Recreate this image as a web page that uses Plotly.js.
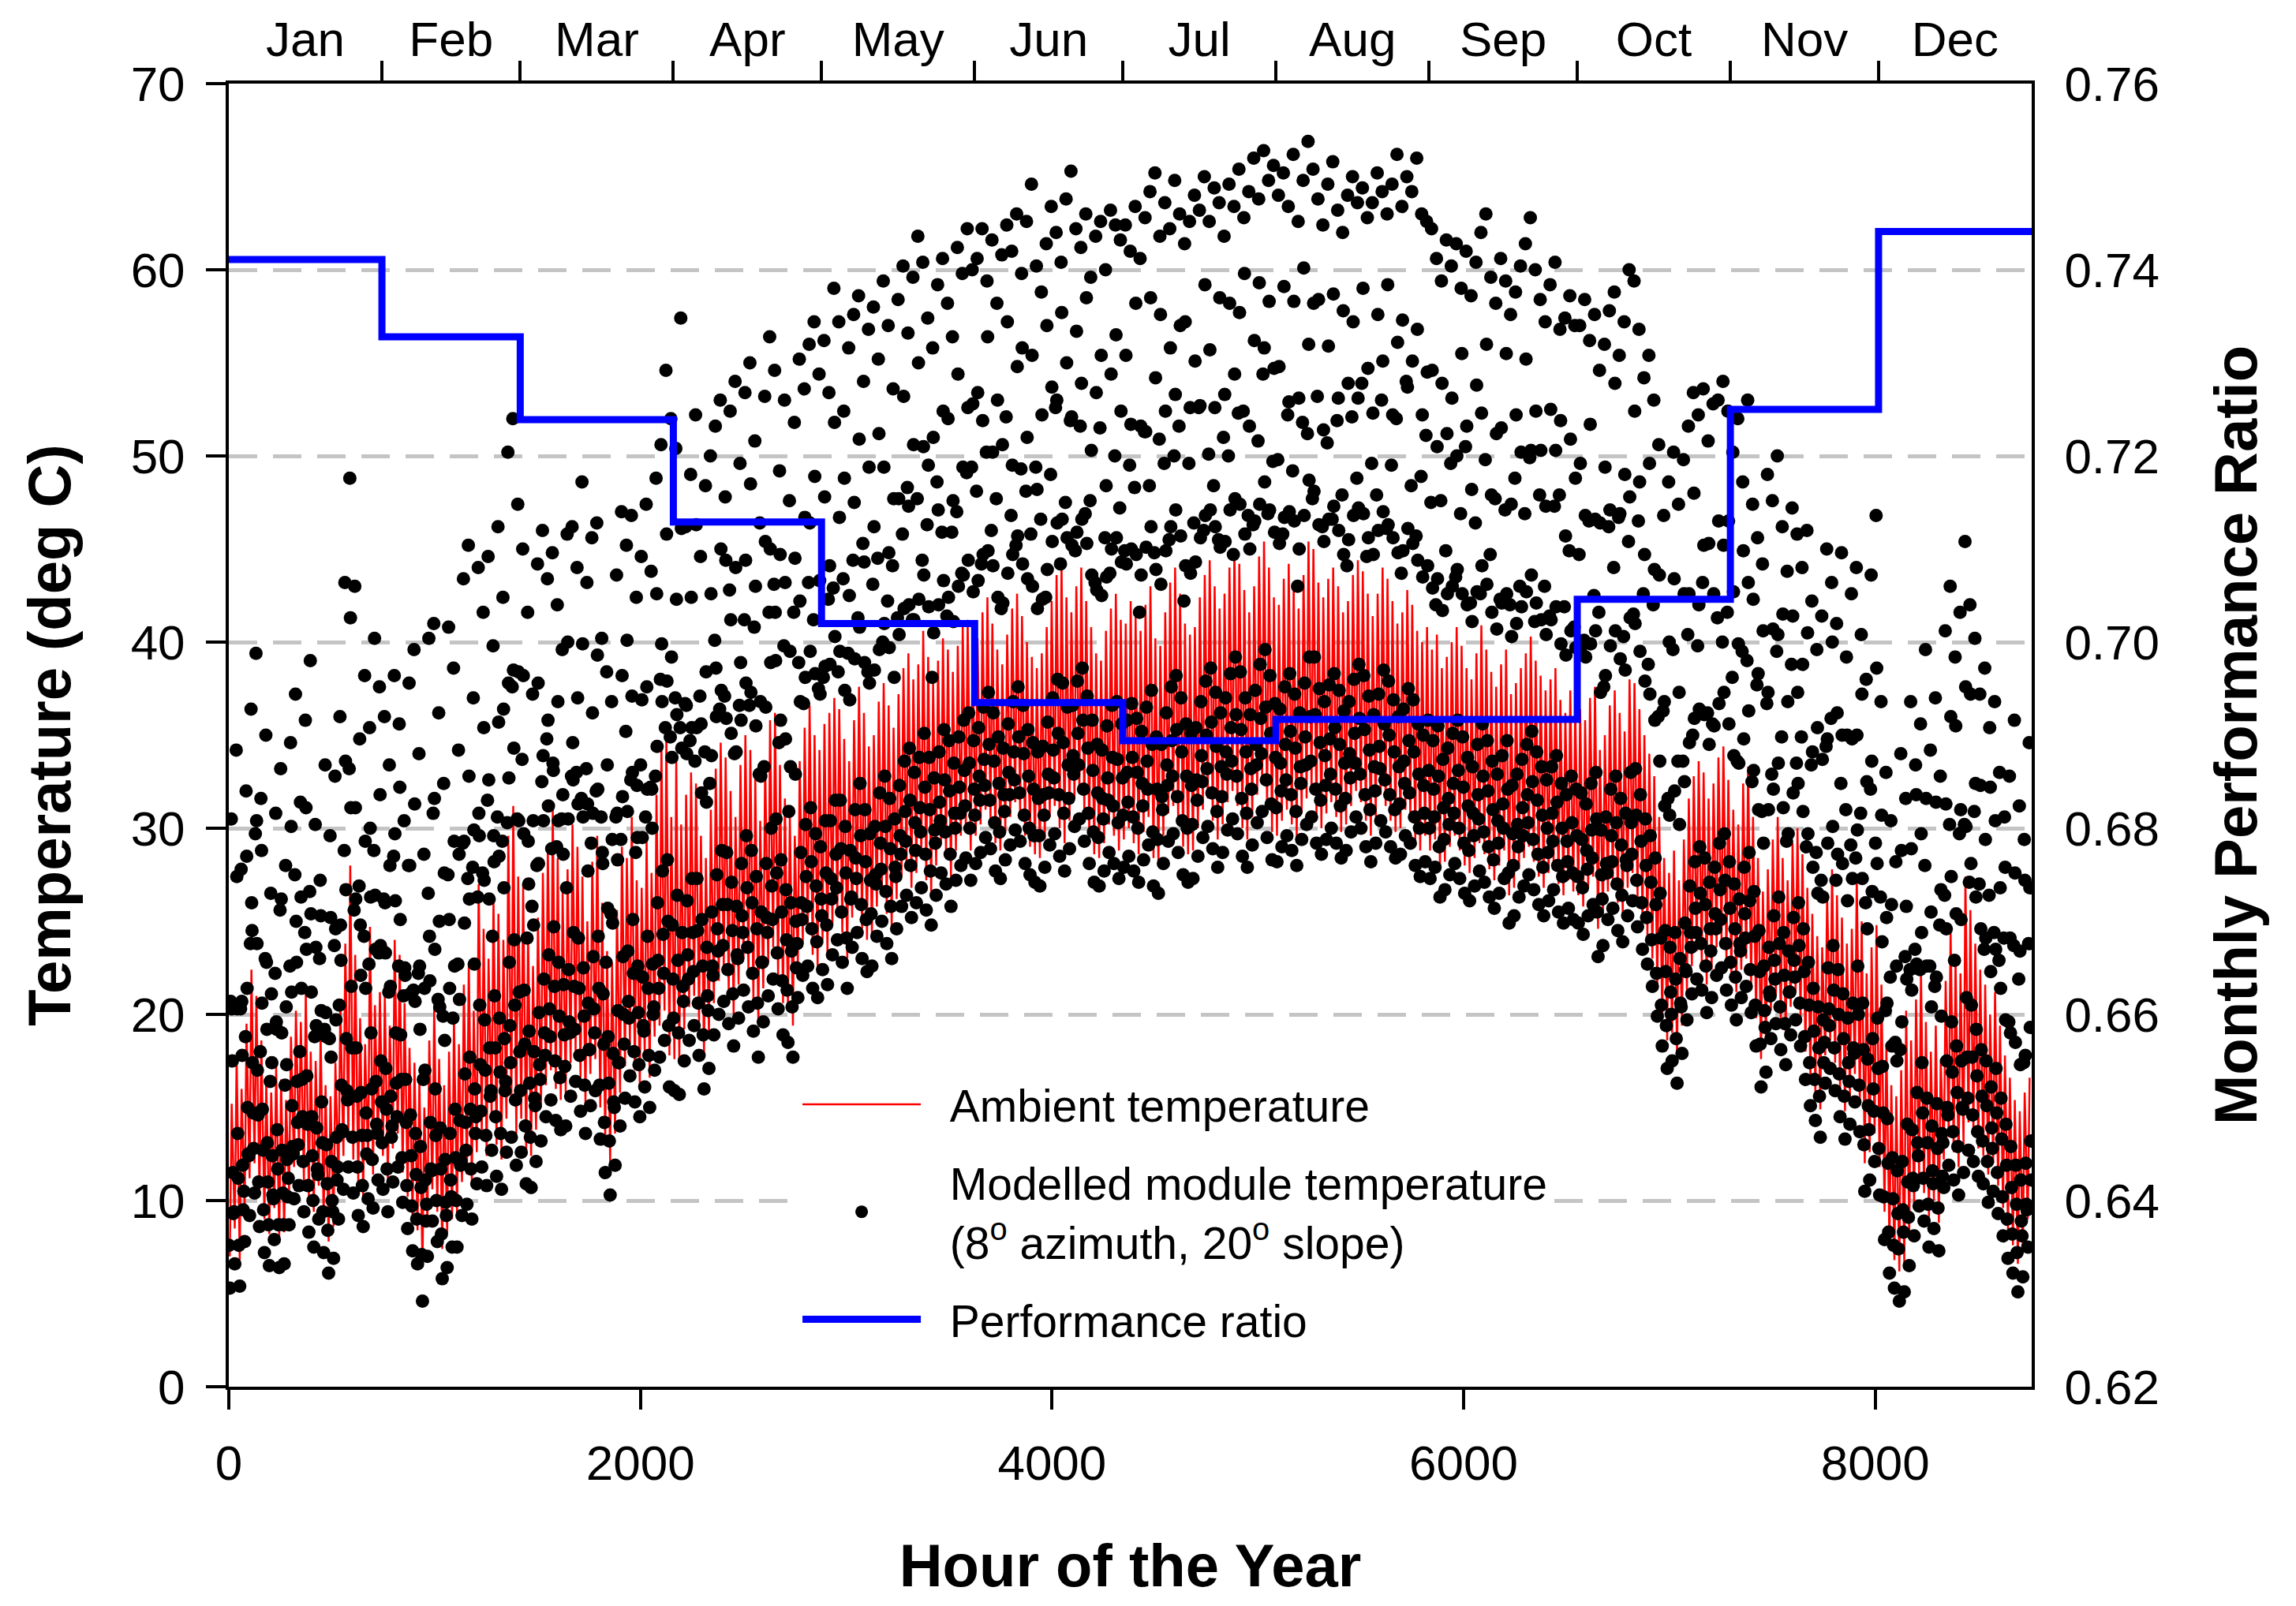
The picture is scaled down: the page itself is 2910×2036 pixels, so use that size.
<!DOCTYPE html>
<html>
<head>
<meta charset="utf-8">
<script src="https://cdn.plot.ly/plotly-3.0.1.min.js"></script>
<style>
  html, body { margin: 0; padding: 0; background: #ffffff; }
  #chart { width: 2910px; height: 2036px; }
</style>
</head>
<body>
<div id="chart"></div>
<script>
// months on the top axis
const monthNames = ['Jan', 'Feb', 'Mar', 'Apr', 'May', 'Jun', 'Jul', 'Aug', 'Sep', 'Oct', 'Nov', 'Dec'];
const monthStartHour = [0, 744, 1416, 2160, 2880, 3624, 4344, 5088, 5832, 6552, 7296, 8016];
const monthDays = [31, 28, 31, 30, 31, 30, 31, 31, 30, 31, 30, 31];

// monthly performance ratio (right axis)
const perfRatio = [0.7411, 0.7328, 0.7239, 0.7129, 0.7020, 0.6935, 0.6894, 0.6917, 0.6917, 0.7046, 0.7250, 0.7441];

// daily ambient temperature, low (~05h) and high (~14h), deg C - one row per month
const ambLow = [
  7.0, 8.5, 6.8, 9.5, 11.2, 12.0, 10.4, 9.0, 8.2, 9.6, 8.0, 8.3, 10.5, 11.8, 12.6, 11.0, 10.2, 9.4, 10.8, 9.0, 7.8, 8.6, 10.9, 12.4, 13.5, 12.2, 11.0, 10.2, 12.0, 11.4, 13.0,
  12.4, 11.0, 12.8, 13.6, 11.5, 10.2, 9.0, 8.4, 6.4, 8.8, 10.6, 9.4, 7.4, 8.2, 9.0, 9.2, 11.0, 11.4, 10.8, 12.6, 13.6, 12.4, 14.6, 13.0, 12.2, 14.4, 15.2, 13.6,
  14.4, 12.6, 12.4, 13.8, 15.0, 16.2, 17.0, 16.0, 15.4, 15.8, 17.4, 18.0, 16.6, 15.2, 16.8, 17.6, 15.0, 13.2, 12.0, 13.6, 15.8, 17.2, 18.4, 17.0, 16.2, 17.8, 16.6, 18.8, 19.4, 20.2, 17.8,
  17.6, 17.4, 19.2, 20.4, 21.0, 19.6, 17.8, 18.8, 20.6, 21.8, 22.4, 21.2, 20.0, 21.6, 23.0, 22.2, 20.8, 19.4, 21.4, 22.8, 23.6, 22.0, 20.6, 20.2, 19.4, 22.6, 23.8, 24.4, 23.2, 22.6,
  24.0, 23.2, 24.8, 25.6, 24.4, 23.0, 25.2, 26.0, 24.6, 24.0, 24.2, 25.8, 26.6, 25.4, 24.6, 26.2, 27.4, 28.0, 26.8, 27.6, 28.4, 27.2, 26.4, 28.0, 29.2, 28.6, 27.4, 28.8, 29.6, 30.0, 28.8,
  29.6, 30.2, 31.0, 30.4, 29.2, 28.8, 29.8, 30.6, 31.4, 30.8, 29.6, 29.0, 28.6, 28.4, 29.4, 30.6, 31.2, 30.0, 29.2, 30.4, 31.6, 32.0, 30.8, 29.6, 28.6, 28.4, 29.2, 30.2, 29.6, 28.8,
  29.4, 30.0, 29.2, 28.6, 29.8, 30.6, 28.4, 28.0, 29.6, 30.8, 31.2, 30.2, 29.0, 28.6, 28.8, 30.0, 31.0, 31.6, 30.4, 29.4, 30.2, 31.4, 32.0, 31.2, 30.0, 29.4, 30.6, 31.8, 32.4, 31.0, 29.8,
  29.6, 30.4, 31.0, 30.2, 29.4, 30.8, 31.6, 32.0, 30.6, 30.0, 30.8, 31.4, 30.6, 29.8, 30.2, 31.2, 32.0, 31.4, 30.4, 29.6, 30.6, 31.8, 31.2, 30.4, 29.8, 30.0, 31.0, 30.6, 29.4, 28.8, 29.6,
  28.8, 29.4, 27.8, 28.2, 29.0, 29.6, 28.8, 28.0, 27.6, 28.4, 29.2, 28.6, 27.8, 27.2, 28.0, 28.8, 26.4, 26.8, 27.8, 28.4, 29.0, 28.2, 27.4, 26.8, 27.6, 28.2, 27.0, 26.4, 27.2, 26.6,
  26.4, 25.8, 26.8, 27.4, 24.6, 25.2, 26.6, 27.2, 26.0, 25.4, 26.8, 27.6, 26.2, 25.0, 24.2, 23.0, 21.4, 19.8, 18.6, 19.0, 17.8, 19.4, 21.2, 22.6, 23.4, 22.8, 21.6, 22.4, 23.6, 24.0, 22.8,
  22.0, 21.2, 22.4, 23.0, 21.6, 19.8, 17.6, 18.4, 20.2, 21.0, 19.6, 18.8, 20.4, 21.2, 19.8, 18.0, 16.6, 15.8, 14.9, 17.8, 18.6, 17.4, 16.0, 14.8, 15.6, 16.8, 15.2, 12.0, 12.6, 13.6,
  11.8, 9.4, 7.6, 6.8, 6.2, 6.6, 8.0, 9.6, 11.2, 10.4, 9.0, 10.0, 8.8, 12.2, 13.4, 12.6, 11.8, 13.0, 14.2, 13.6, 12.8, 12.4, 11.4, 12.0, 10.8, 9.6, 8.4, 7.6, 6.6, 7.4, 9.0
];
const ambHigh = [
  15.2, 17.8, 16.0, 19.5, 22.4, 21.0, 18.6, 16.4, 15.8, 17.2, 16.5, 15.4, 18.8, 20.2, 19.6, 21.3, 18.0, 17.5, 19.0, 16.2, 15.6, 17.4, 20.6, 23.8, 28.0, 23.2, 19.8, 18.4, 24.7, 20.5, 21.2,
  21.0, 19.4, 24.0, 23.2, 20.6, 18.2, 17.4, 16.6, 15.0, 18.6, 20.4, 17.6, 16.2, 18.0, 19.8, 18.4, 21.6, 22.8, 20.2, 27.0, 24.6, 23.0, 26.2, 25.4, 24.0, 29.6, 31.2, 27.4,
  27.0, 24.4, 22.6, 25.2, 27.6, 29.0, 31.0, 28.4, 26.6, 27.8, 30.2, 29.0, 27.4, 25.0, 28.2, 29.6, 26.0, 23.4, 22.8, 25.6, 29.0, 28.4, 30.6, 27.2, 26.8, 29.4, 27.6, 31.8, 34.4, 35.0, 30.6,
  33.6, 30.2, 31.8, 33.0, 32.4, 29.6, 28.4, 31.0, 33.2, 34.6, 33.8, 32.0, 30.6, 33.4, 35.0, 34.2, 32.8, 30.4, 33.6, 35.8, 36.2, 33.4, 31.6, 30.8, 29.6, 33.6, 35.4, 36.6, 35.0, 34.2,
  35.6, 36.2, 37.0, 36.4, 34.8, 33.6, 35.8, 37.6, 36.2, 34.4, 35.0, 36.8, 37.8, 36.6, 35.4, 37.2, 38.6, 39.4, 38.0, 38.8, 40.6, 39.2, 37.8, 39.0, 40.2, 39.6, 38.4, 39.8, 40.8, 41.2, 39.6,
  40.2, 41.6, 42.4, 41.0, 39.6, 38.8, 40.4, 41.8, 42.6, 41.4, 40.0, 39.2, 38.6, 39.4, 40.8, 42.2, 43.6, 44.2, 42.4, 41.6, 43.0, 44.0, 42.2, 40.8, 39.4, 39.0, 40.6, 41.8, 42.6, 41.2,
  41.0, 42.2, 41.4, 40.6, 42.0, 43.0, 40.2, 39.8, 41.6, 43.2, 44.0, 42.6, 41.0, 40.4, 40.8, 42.4, 43.6, 44.4, 43.0, 41.8, 42.6, 44.0, 45.0, 44.2, 42.8, 41.6, 43.0, 44.6, 45.4, 44.0, 42.4,
  42.0, 43.4, 44.2, 43.0, 41.8, 43.6, 45.4, 45.0, 43.2, 42.4, 43.4, 44.0, 43.0, 41.6, 42.2, 43.6, 44.4, 43.8, 42.6, 41.4, 42.6, 44.0, 43.4, 42.2, 41.0, 41.6, 42.8, 42.0, 40.6, 40.0, 40.8,
  39.6, 40.4, 38.6, 39.2, 40.0, 40.8, 39.8, 38.6, 38.0, 39.4, 40.9, 39.6, 38.4, 37.6, 38.8, 39.6, 37.2, 37.8, 38.6, 39.4, 40.3, 39.0, 38.2, 37.4, 38.0, 38.6, 36.9, 36.2, 37.4, 36.6,
  36.4, 35.8, 37.0, 37.6, 34.2, 35.0, 36.6, 37.4, 36.2, 35.2, 38.0, 37.8, 36.4, 35.0, 34.0, 32.8, 30.6, 28.4, 27.6, 28.8, 27.2, 29.4, 31.6, 32.8, 33.6, 33.0, 31.6, 32.4, 33.8, 34.4, 32.6,
  31.0, 30.2, 32.4, 33.3, 30.6, 28.4, 26.6, 27.8, 29.4, 30.6, 28.4, 27.2, 29.2, 30.0, 28.6, 26.8, 25.4, 24.2, 23.6, 26.4, 27.8, 26.4, 25.2, 23.8, 24.6, 27.4, 25.0, 22.2, 23.6, 24.8,
  21.6, 18.4, 16.2, 15.6, 17.0, 20.2, 18.6, 20.8, 22.4, 19.6, 18.0, 19.4, 17.6, 21.8, 24.6, 23.0, 22.2, 27.4, 25.6, 23.8, 22.4, 21.6, 20.0, 21.2, 19.4, 17.8, 16.6, 15.4, 14.8, 15.8, 16.6
];

// daily modelled module temperature, deg C, at the hours in modHours
const modLateNight = [ // 01h
  7.6, 9.4, 7.6, 10.5, 12.4, 12.8, 11.0, 9.5, 8.7, 10.1, 8.7, 8.7, 11.2, 12.5, 13.0, 12.1, 10.8, 10.0, 11.4, 9.4, 8.4, 9.4, 11.8, 13.7, 15.4, 13.4, 11.8, 10.8, 13.5, 12.2, 13.6,
  13.1, 11.7, 14.0, 14.5, 12.3, 10.8, 9.7, 9.0, 7.1, 9.8, 11.6, 10.0, 8.2, 9.2, 10.2, 10.0, 12.1, 12.7, 11.7, 14.5, 14.8, 13.5, 15.9, 14.5, 13.6, 16.4, 17.4, 15.4,
  15.9, 14.0, 13.4, 15.1, 16.5, 17.8, 18.8, 17.5, 16.6, 17.2, 19.0, 19.2, 17.8, 16.2, 18.1, 19.0, 16.2, 14.2, 13.2, 15.0, 17.4, 18.4, 19.8, 18.0, 17.3, 19.1, 17.8, 20.4, 21.4, 22.2, 19.4,
  19.8, 19.0, 20.7, 21.9, 22.3, 20.6, 18.9, 20.2, 22.1, 23.4, 23.7, 22.4, 21.1, 23.0, 24.4, 23.6, 22.2, 20.6, 22.8, 24.4, 25.1, 23.3, 21.8, 21.3, 20.4, 23.8, 25.1, 25.8, 24.6, 23.9,
  25.3, 24.8, 26.2, 26.8, 25.5, 24.1, 26.3, 27.3, 25.9, 25.1, 25.4, 27.0, 27.8, 26.6, 25.8, 27.4, 28.6, 29.3, 28.0, 28.8, 29.8, 28.6, 27.7, 29.2, 30.4, 29.8, 28.6, 30.0, 30.8, 31.2, 30.0,
  30.7, 31.5, 32.3, 31.5, 30.3, 29.8, 30.9, 31.8, 32.6, 31.9, 30.7, 30.0, 29.6, 29.6, 30.7, 31.9, 32.7, 31.8, 30.8, 31.6, 32.9, 33.4, 32.1, 30.8, 29.8, 29.5, 30.5, 31.5, 31.2, 30.3,
  30.7, 31.4, 30.6, 30.0, 31.2, 32.1, 29.8, 29.4, 31.0, 32.3, 32.8, 31.7, 30.4, 30.0, 30.2, 31.5, 32.5, 33.2, 31.9, 30.9, 31.7, 32.9, 33.6, 32.8, 31.6, 30.8, 32.1, 33.4, 34.0, 32.6, 31.3,
  31.1, 32.0, 32.6, 31.8, 30.9, 32.4, 33.4, 33.6, 32.1, 31.5, 32.3, 32.9, 32.1, 31.2, 31.6, 32.7, 33.5, 32.9, 31.8, 31.0, 32.0, 33.2, 32.6, 31.8, 31.0, 31.3, 32.4, 31.9, 30.6, 30.0, 30.8,
  30.0, 30.6, 29.0, 29.4, 30.2, 30.8, 30.0, 29.2, 28.8, 29.6, 30.5, 29.8, 29.0, 28.3, 29.2, 30.0, 27.6, 28.0, 29.0, 29.6, 30.3, 29.4, 28.6, 27.9, 28.7, 29.3, 28.0, 27.4, 28.2, 27.6,
  27.4, 26.8, 27.8, 28.4, 25.5, 26.2, 27.6, 28.2, 27.0, 26.4, 28.0, 28.6, 27.2, 26.0, 25.2, 24.0, 22.2, 20.5, 19.4, 20.0, 18.7, 20.4, 22.3, 23.6, 24.4, 23.8, 22.6, 23.4, 24.6, 25.1, 23.8,
  22.8, 22.0, 23.4, 24.1, 22.4, 20.5, 18.4, 19.3, 21.0, 21.9, 20.4, 19.5, 21.2, 22.0, 20.6, 18.8, 17.4, 16.5, 15.6, 18.5, 19.4, 18.2, 16.8, 15.6, 16.4, 17.9, 16.2, 13.0, 13.8, 14.8,
  12.8, 10.2, 8.3, 7.6, 7.4, 8.3, 9.1, 10.8, 12.4, 11.2, 9.8, 10.9, 9.6, 13.1, 14.6, 13.7, 12.9, 14.9, 15.5, 14.6, 13.7, 13.2, 12.1, 12.8, 11.5, 10.2, 9.0, 8.2, 7.2, 8.1, 9.5
];
const modNight = [ // 05h
  5.3, 6.6, 5.4, 7.8, 9.2, 10.4, 8.6, 7.2, 6.5, 7.9, 6.4, 6.6, 8.7, 10.1, 10.8, 9.4, 8.3, 7.5, 9.0, 7.2, 6.1, 6.9, 9.0, 10.6, 11.8, 10.4, 9.2, 8.6, 10.1, 9.6, 11.1,
  10.6, 9.4, 11.0, 11.8, 9.9, 8.5, 7.3, 6.6, 4.6, 7.0, 8.9, 7.8, 5.8, 6.4, 7.5, 7.5, 9.2, 9.8, 9.0, 10.9, 11.8, 10.8, 12.7, 11.3, 10.6, 12.6, 13.4, 11.9,
  12.6, 10.9, 10.7, 12.1, 13.2, 14.5, 15.4, 14.3, 13.8, 14.0, 15.6, 16.4, 14.8, 13.6, 15.1, 15.9, 13.3, 11.5, 10.3, 11.9, 14.0, 15.5, 16.7, 15.3, 14.5, 16.1, 15.0, 17.0, 17.7, 18.6, 16.1,
  15.9, 15.7, 17.5, 18.6, 19.4, 17.8, 16.0, 17.1, 18.9, 20.0, 20.7, 19.5, 18.3, 19.8, 21.3, 20.4, 19.1, 17.7, 19.6, 21.0, 21.9, 20.3, 18.9, 18.5, 17.7, 20.9, 22.1, 22.6, 21.4, 20.9,
  22.4, 21.6, 23.2, 24.0, 22.8, 21.4, 23.6, 24.4, 23.0, 22.3, 22.6, 24.2, 25.0, 23.8, 23.0, 24.6, 25.8, 26.4, 25.2, 26.0, 26.8, 25.6, 24.8, 26.4, 27.6, 27.0, 25.8, 27.2, 28.0, 28.4, 27.2,
  28.1, 28.7, 29.5, 28.9, 27.7, 27.3, 28.3, 29.1, 29.9, 29.3, 28.1, 27.5, 27.1, 26.9, 27.9, 29.1, 29.7, 28.5, 27.7, 28.9, 30.1, 30.5, 29.3, 28.1, 27.1, 26.9, 27.7, 28.7, 28.1, 27.3,
  27.9, 28.5, 27.7, 27.1, 28.3, 29.1, 26.9, 26.5, 28.1, 29.3, 29.7, 28.7, 27.5, 27.1, 27.3, 28.5, 29.5, 30.1, 28.9, 27.9, 28.7, 29.9, 30.5, 29.7, 28.5, 27.9, 29.1, 30.3, 30.9, 29.5, 28.3,
  28.2, 29.0, 29.6, 28.8, 28.0, 29.4, 30.2, 30.6, 29.2, 28.6, 29.4, 30.0, 29.2, 28.4, 28.8, 29.8, 30.6, 30.0, 29.0, 28.2, 29.2, 30.4, 29.8, 29.0, 28.4, 28.6, 29.6, 29.2, 28.0, 27.4, 28.2,
  27.3, 27.9, 26.3, 26.7, 27.5, 28.1, 27.3, 26.5, 26.1, 26.9, 27.7, 27.1, 26.3, 25.7, 26.5, 27.3, 24.9, 25.3, 26.3, 26.9, 27.5, 26.7, 25.9, 25.3, 26.1, 26.7, 25.5, 24.9, 25.7, 25.1,
  24.9, 24.3, 25.3, 25.9, 23.1, 23.7, 25.1, 25.7, 24.5, 23.9, 25.3, 26.1, 24.7, 23.5, 22.7, 21.5, 19.9, 18.3, 17.1, 17.5, 16.3, 17.9, 19.7, 21.1, 21.9, 21.3, 20.1, 20.9, 22.1, 22.5, 21.3,
  20.5, 19.7, 20.9, 21.5, 20.1, 18.3, 16.1, 16.9, 18.7, 19.5, 18.1, 17.3, 18.9, 19.7, 18.3, 16.5, 15.1, 14.3, 13.4, 16.3, 17.1, 15.9, 14.5, 13.3, 14.1, 15.3, 13.7, 10.5, 11.1, 12.1,
  10.3, 7.9, 6.1, 5.3, 4.6, 5.1, 6.5, 8.1, 9.7, 8.9, 7.5, 8.5, 7.3, 10.7, 11.9, 11.1, 10.3, 11.5, 12.7, 12.1, 11.3, 10.9, 9.9, 10.5, 9.3, 8.1, 6.9, 6.1, 5.1, 5.9, 7.5
];
const modMorning = [ // 09h
  20.7, 20.4, 20.3, 18.8, 23.8, 29.7, 18.0, 23.0, 16.4, 22.2, 25.6, 16.2, 22.6, 27.5, 18.0, 24.4, 26.6, 18.8, 23.0, 19.2, 18.7, 23.7, 20.5, 28.8, 33.2, 25.6, 26.9, 24.2, 22.7, 28.8, 23.3,
  26.2, 21.2, 28.5, 22.6, 21.0, 28.0, 21.3, 22.2, 16.5, 26.5, 30.8, 20.8, 19.9, 27.5, 19.8, 22.7, 29.2, 27.3, 27.9, 26.3, 27.6, 31.5, 24.2, 30.6, 29.3, 30.3, 37.6, 30.5,
  33.7, 24.1, 25.8, 28.0, 32.5, 34.8, 28.9, 29.0, 30.5, 26.8, 32.8, 33.0, 31.6, 33.2, 29.2, 32.0, 30.6, 22.8, 25.4, 30.6, 29.4, 35.2, 32.6, 28.7, 33.4, 30.6, 32.2, 32.8, 38.0, 35.4, 34.9,
  37.0, 35.4, 36.7, 34.7, 33.6, 37.1, 34.1, 32.4, 40.1, 36.4, 37.1, 42.8, 34.0, 36.6, 41.2, 36.6, 40.8, 32.9, 33.3, 41.6, 43.1, 34.6, 39.8, 30.9, 41.6, 38.9, 36.7, 43.2, 41.2, 37.5,
  38.1, 42.3, 42.9, 38.4, 43.4, 39.4, 44.4, 41.3, 45.3, 38.4, 43.1, 44.5, 40.0, 42.2, 44.1, 41.3, 45.8, 48.3, 41.2, 47.7, 44.4, 46.3, 38.1, 48.6, 45.9, 41.4, 45.9, 47.0, 43.7, 49.1, 49.4,
  48.1, 44.2, 50.2, 46.0, 47.7, 41.8, 52.1, 46.8, 45.2, 49.3, 48.1, 45.8, 49.4, 46.6, 42.4, 49.0, 52.6, 44.2, 47.5, 51.9, 44.9, 51.6, 46.9, 47.6, 43.2, 51.5, 45.6, 43.7, 50.0, 47.2,
  44.9, 49.5, 48.3, 41.6, 51.3, 48.4, 44.8, 50.9, 49.6, 45.5, 50.0, 51.6, 42.2, 49.6, 46.4, 52.6, 46.0, 50.1, 48.4, 45.5, 51.0, 50.0, 44.7, 52.3, 52.4, 46.8, 46.3, 50.8, 54.4, 46.9, 49.7,
  49.8, 45.8, 52.2, 49.2, 43.0, 51.8, 51.2, 47.7, 53.2, 46.2, 50.7, 46.6, 51.9, 47.9, 44.1, 52.1, 48.8, 53.9, 44.6, 49.6, 47.9, 53.0, 46.1, 49.5, 52.0, 43.7, 54.0, 48.4, 45.7, 48.9, 51.1,
  47.5, 42.0, 47.6, 44.9, 49.6, 43.5, 46.9, 50.5, 42.1, 46.4, 42.6, 49.8, 44.7, 47.7, 42.3, 47.1, 42.0, 48.8, 43.0, 46.9, 49.9, 41.1, 47.9, 43.0, 41.4, 47.3, 47.9, 41.9, 44.9, 40.8,
  44.7, 40.1, 46.5, 42.5, 41.6, 37.6, 46.2, 44.0, 46.7, 40.3, 45.4, 41.5, 46.5, 42.6, 38.8, 42.0, 36.0, 36.3, 31.6, 39.6, 33.6, 33.6, 40.4, 35.0, 39.8, 43.2, 36.2, 35.6, 41.3, 40.0, 41.6,
  38.1, 33.6, 39.5, 39.0, 32.5, 37.7, 30.9, 36.7, 32.9, 39.5, 34.9, 29.3, 38.8, 33.5, 34.9, 29.0, 33.4, 28.7, 27.2, 34.4, 35.9, 27.2, 32.4, 31.0, 29.1, 28.4, 30.8, 26.0, 32.1, 29.2,
  26.3, 20.2, 22.0, 18.5, 18.1, 23.1, 22.4, 23.5, 22.4, 28.0, 22.6, 21.5, 24.8, 26.4, 30.2, 22.9, 29.7, 30.2, 27.1, 30.9, 27.0, 23.5, 26.4, 24.4, 22.9, 24.1, 19.6, 23.7, 21.9, 17.4, 23.8
];
const modNoon = [ // 12h
  30.5, 34.2, 27.8, 32.0, 36.4, 39.4, 31.6, 35.0, 26.5, 30.8, 33.2, 28.0, 34.6, 37.2, 31.4, 35.8, 39.0, 30.2, 27.2, 33.4, 29.6, 32.8, 36.0, 43.2, 48.8, 43.0, 34.8, 38.2, 35.4, 40.2, 37.6,
  36.0, 33.4, 38.2, 35.6, 30.4, 37.8, 39.6, 34.0, 28.6, 40.2, 41.0, 36.2, 32.4, 40.8, 38.6, 34.2, 43.4, 45.2, 37.0, 44.0, 41.6, 44.6, 39.8, 46.2, 42.4, 50.2, 52.0, 47.4,
  45.0, 41.6, 37.2, 44.2, 46.0, 43.4, 44.8, 42.0, 39.6, 45.8, 46.2, 44.0, 48.6, 43.2, 45.6, 46.4, 40.2, 38.4, 36.8, 43.6, 47.0, 45.2, 46.8, 42.4, 44.6, 47.4, 43.8, 48.8, 50.6, 54.6, 52.0,
  50.4, 57.4, 46.2, 49.0, 52.2, 44.6, 48.4, 50.0, 51.6, 53.0, 47.8, 52.4, 54.0, 49.6, 53.4, 55.0, 50.8, 46.4, 53.2, 56.4, 54.6, 49.2, 53.0, 47.6, 51.8, 55.2, 53.6, 56.0, 57.2, 54.4,
  56.2, 53.4, 59.0, 57.2, 52.4, 55.8, 57.6, 58.6, 54.0, 56.8, 58.0, 55.2, 59.4, 57.0, 53.6, 58.4, 60.2, 56.6, 59.6, 61.8, 60.4, 57.4, 55.8, 59.2, 60.6, 58.2, 56.4, 61.2, 59.8, 62.2, 60.0,
  60.6, 62.2, 59.4, 61.6, 58.2, 60.8, 62.4, 61.0, 63.0, 59.8, 62.6, 64.6, 60.2, 58.8, 61.4, 63.4, 62.0, 60.4, 63.8, 65.3, 62.2, 61.2, 63.0, 59.6, 61.8, 62.6, 60.0, 63.2, 62.4, 61.6,
  62.4, 61.0, 63.4, 60.6, 62.8, 64.2, 65.2, 61.8, 63.6, 62.2, 64.8, 63.0, 61.4, 62.6, 64.0, 63.2, 65.0, 62.6, 64.4, 63.6, 61.8, 64.6, 63.4, 65.4, 62.8, 64.2, 66.0, 63.8, 66.4, 64.8, 65.6,
  64.0, 65.2, 63.4, 66.2, 62.6, 64.8, 66.9, 65.4, 63.8, 62.4, 64.6, 65.8, 63.2, 62.0, 64.0, 65.0, 63.6, 64.4, 62.8, 63.6, 65.2, 64.2, 63.0, 64.6, 66.2, 63.4, 65.0, 64.2, 66.0, 63.0, 62.6,
  62.2, 60.6, 59.4, 61.6, 60.2, 61.4, 59.0, 61.0, 58.6, 60.4, 62.0, 63.0, 59.6, 58.2, 60.6, 59.4, 57.6, 58.8, 60.2, 61.4, 62.8, 60.0, 58.4, 57.2, 59.2, 60.4, 56.8, 57.4, 58.6, 57.0,
  57.0, 58.4, 56.2, 57.6, 54.6, 56.0, 57.8, 58.8, 55.4, 57.2, 60.0, 59.4, 56.8, 54.2, 55.4, 53.0, 50.6, 46.8, 48.6, 50.2, 47.4, 49.8, 51.6, 53.4, 52.2, 53.6, 50.8, 52.8, 53.0, 54.0, 52.4,
  50.2, 52.0, 48.6, 53.0, 47.4, 45.6, 44.2, 49.0, 47.6, 50.0, 46.2, 43.8, 47.2, 45.8, 44.0, 46.0, 42.2, 39.6, 41.4, 45.0, 43.2, 41.0, 44.8, 39.2, 42.6, 44.0, 40.4, 38.0, 43.6, 46.8,
  36.8, 33.0, 30.4, 28.2, 34.0, 31.6, 36.8, 33.4, 35.6, 39.6, 34.2, 37.0, 32.8, 40.6, 43.0, 39.2, 41.6, 45.4, 42.0, 40.2, 37.2, 38.6, 35.4, 36.8, 33.0, 30.6, 32.8, 35.8, 31.2, 29.4, 34.6
];
const modAfternoon = [ // 15h
  20.3, 27.4, 20.7, 28.5, 26.0, 30.4, 28.8, 22.8, 21.1, 19.6, 26.2, 20.4, 30.1, 25.0, 26.3, 31.1, 25.4, 23.6, 25.3, 20.1, 25.2, 24.6, 24.8, 33.6, 41.3, 31.1, 24.8, 29.3, 30.0, 26.4, 31.8,
  26.0, 28.0, 29.7, 32.2, 22.5, 28.0, 31.3, 22.6, 21.4, 24.2, 31.6, 25.0, 27.6, 25.1, 29.3, 28.6, 29.3, 32.8, 29.9, 30.8, 35.4, 32.6, 29.6, 35.7, 36.4, 37.8, 38.5, 38.4,
  38.2, 29.3, 30.4, 37.8, 33.9, 35.8, 33.5, 36.8, 31.8, 40.0, 34.6, 37.0, 39.9, 31.3, 36.2, 39.3, 28.7, 33.4, 29.4, 30.8, 38.2, 40.1, 37.1, 32.3, 36.9, 37.6, 32.1, 42.6, 39.9, 45.8, 39.2,
  42.3, 46.1, 36.6, 42.4, 46.3, 35.6, 38.4, 42.6, 38.6, 45.0, 44.4, 41.2, 44.0, 38.9, 44.4, 48.5, 43.0, 36.8, 45.4, 45.0, 41.6, 44.7, 43.2, 39.5, 44.5, 42.2, 46.7, 46.4, 48.9, 43.3,
  47.8, 44.1, 51.8, 46.7, 48.8, 42.5, 47.5, 50.9, 44.3, 49.4, 46.2, 51.2, 49.4, 44.8, 47.7, 47.7, 53.2, 47.3, 50.6, 55.0, 50.5, 49.5, 51.0, 47.1, 52.4, 52.0, 47.6, 54.4, 49.4, 52.6, 52.8,
  53.4, 51.9, 56.4, 50.2, 53.0, 50.6, 57.2, 49.5, 54.8, 55.8, 51.0, 55.4, 48.2, 52.2, 57.0, 53.7, 53.0, 57.7, 55.0, 52.1, 56.7, 53.9, 58.5, 50.3, 53.4, 55.4, 48.4, 54.4, 56.5, 52.4,
  55.4, 51.7, 58.2, 51.6, 51.3, 58.5, 54.2, 57.6, 52.4, 55.8, 53.3, 57.0, 57.2, 52.6, 55.1, 52.7, 59.2, 55.7, 52.6, 58.5, 53.3, 58.2, 54.4, 57.7, 59.8, 51.6, 56.2, 59.3, 55.8, 58.3, 54.7,
  54.8, 59.1, 52.9, 58.3, 53.1, 60.1, 56.0, 58.2, 58.4, 51.4, 55.9, 58.7, 53.1, 57.8, 53.9, 57.2, 53.1, 59.0, 54.7, 52.3, 57.6, 55.1, 59.2, 52.2, 56.1, 57.3, 53.7, 55.1, 56.8, 52.2, 54.5,
  54.6, 50.5, 53.9, 51.2, 53.1, 50.0, 55.5, 51.6, 48.2, 53.8, 52.3, 56.0, 47.9, 51.2, 51.5, 55.5, 47.4, 52.2, 50.2, 55.2, 50.3, 52.4, 50.3, 47.3, 52.5, 50.3, 51.9, 45.7, 50.9, 48.8,
  49.6, 46.8, 51.7, 46.6, 46.4, 49.4, 47.1, 53.9, 46.9, 49.0, 47.8, 52.4, 48.6, 44.7, 49.6, 43.9, 43.6, 36.8, 40.0, 43.4, 37.3, 42.6, 42.6, 48.0, 42.0, 45.2, 45.3, 42.6, 46.5, 45.2, 46.5,
  42.7, 39.9, 44.9, 43.2, 42.3, 38.3, 40.6, 37.3, 40.7, 40.4, 41.5, 36.8, 41.4, 37.3, 38.8, 40.5, 34.1, 35.4, 33.7, 34.8, 40.0, 36.2, 35.0, 35.0, 34.8, 35.0, 37.2, 32.5, 33.6, 38.6,
  30.7, 25.2, 25.9, 22.6, 28.8, 25.8, 28.9, 31.8, 29.7, 31.6, 25.5, 31.4, 26.7, 31.3, 36.0, 35.5, 31.0, 37.6, 37.2, 32.4, 32.3, 29.4, 32.2, 30.4, 26.8, 27.9, 24.1, 27.6, 23.4, 27.2, 26.8
];
const modLateAfternoon = [ // 17h
  17.5, 20.3, 17.8, 21.4, 24.5, 23.8, 20.6, 19.2, 17.4, 19.2, 19.0, 17.3, 21.2, 22.8, 21.4, 23.5, 21.2, 19.4, 20.2, 18.8, 17.7, 19.7, 22.9, 26.7, 31.1, 26.2, 22.1, 21.4, 26.3, 23.5, 23.7,
  23.3, 21.5, 26.1, 25.1, 22.1, 21.1, 20.7, 19.2, 17.0, 21.8, 23.5, 20.4, 18.6, 21.4, 22.6, 20.8, 24.9, 26.2, 22.7, 29.6, 27.2, 26.2, 28.2, 28.5, 26.8, 32.7, 34.3, 30.4,
  29.7, 27.0, 24.8, 28.1, 30.4, 31.2, 33.1, 30.4, 28.6, 30.5, 32.6, 31.3, 30.6, 27.7, 30.8, 32.1, 28.1, 25.7, 24.9, 28.3, 31.7, 30.9, 33.0, 29.5, 29.5, 32.1, 30.0, 34.4, 36.8, 37.9, 33.8,
  36.1, 34.3, 34.0, 35.4, 35.4, 31.9, 31.4, 33.9, 36.0, 37.4, 35.9, 35.1, 34.1, 35.8, 37.8, 37.3, 35.5, 32.8, 36.5, 38.9, 39.0, 35.8, 34.8, 33.3, 32.9, 36.8, 38.1, 39.5, 38.3, 37.2,
  38.7, 38.8, 40.3, 39.5, 37.4, 36.9, 39.1, 40.8, 38.9, 37.8, 38.5, 39.6, 41.0, 39.7, 38.1, 40.4, 41.8, 42.0, 41.2, 42.3, 43.6, 41.9, 40.5, 42.0, 43.3, 42.4, 41.1, 43.0, 43.6, 44.4, 42.7,
  43.3, 44.7, 44.9, 44.1, 42.4, 42.1, 43.7, 44.7, 45.7, 44.2, 43.4, 43.0, 41.8, 42.3, 43.9, 45.4, 46.4, 46.6, 45.6, 45.2, 45.9, 46.6, 45.3, 43.6, 42.8, 42.5, 43.5, 45.0, 45.6, 44.3,
  44.2, 45.0, 44.7, 43.6, 45.1, 46.2, 43.9, 43.1, 44.9, 46.2, 47.1, 45.7, 44.1, 43.7, 44.3, 45.6, 46.8, 47.1, 46.2, 45.1, 45.4, 47.1, 47.7, 47.4, 45.8, 45.0, 46.5, 47.4, 48.6, 47.1, 45.9,
  45.3, 46.7, 47.0, 46.5, 45.0, 46.8, 48.7, 48.1, 46.3, 45.4, 46.6, 47.3, 46.0, 44.7, 45.5, 46.8, 47.2, 46.9, 45.6, 44.7, 46.0, 47.0, 46.3, 45.6, 44.8, 44.9, 46.1, 45.3, 44.4, 43.5, 44.1,
  42.9, 43.4, 41.7, 42.6, 43.0, 43.9, 42.6, 42.0, 41.1, 42.7, 44.1, 43.1, 41.6, 40.7, 42.1, 42.6, 40.3, 41.0, 41.9, 42.7, 43.6, 42.1, 41.2, 40.4, 41.2, 41.9, 39.9, 39.3, 40.6, 39.7,
  39.5, 39.2, 39.9, 40.6, 37.3, 38.2, 39.8, 40.6, 39.1, 38.5, 41.3, 41.0, 39.5, 37.9, 37.2, 35.8, 33.6, 31.2, 30.7, 32.0, 30.2, 32.5, 34.6, 35.9, 36.4, 36.1, 34.5, 35.5, 36.7, 37.3, 35.6,
  33.9, 33.5, 34.8, 36.3, 33.1, 31.0, 29.2, 31.0, 32.1, 33.5, 31.1, 29.7, 31.9, 32.4, 30.9, 29.7, 27.9, 26.5, 26.3, 29.2, 30.1, 28.6, 28.1, 26.1, 27.3, 29.9, 27.3, 24.6, 26.6, 28.1,
  23.9, 20.6, 18.3, 17.5, 19.6, 21.9, 21.3, 22.7, 24.4, 22.6, 20.4, 22.0, 19.9, 24.6, 27.4, 25.4, 25.1, 30.1, 28.1, 26.3, 24.6, 24.1, 22.3, 23.5, 21.4, 19.7, 19.0, 18.5, 17.3, 17.8, 19.3
];
const modEvening = [ // 19h
  11.5, 13.6, 11.9, 15.0, 17.4, 17.0, 14.9, 13.1, 12.4, 13.8, 12.7, 12.2, 15.1, 16.4, 16.5, 16.7, 14.5, 13.9, 15.3, 13.0, 12.1, 13.4, 16.2, 18.7, 21.5, 18.2, 15.8, 14.7, 19.0, 16.4, 17.5,
  17.1, 15.6, 19.0, 18.9, 16.5, 14.6, 13.6, 12.9, 11.1, 14.2, 16.0, 13.9, 12.2, 13.6, 14.9, 14.3, 16.8, 17.7, 16.0, 20.5, 19.7, 18.2, 21.0, 19.8, 18.7, 22.8, 24.0, 21.2,
  21.3, 19.1, 18.0, 20.1, 21.9, 23.2, 24.7, 22.8, 21.6, 22.4, 24.4, 24.1, 22.5, 20.6, 23.1, 24.2, 21.1, 18.8, 17.9, 20.2, 23.1, 23.4, 25.1, 22.6, 22.0, 24.2, 22.7, 26.0, 27.7, 28.3, 24.8,
  26.4, 24.4, 26.1, 27.3, 27.3, 25.1, 23.6, 25.5, 27.5, 28.8, 28.7, 27.1, 25.8, 28.1, 29.6, 28.8, 27.4, 25.5, 28.1, 30.0, 30.5, 28.3, 26.7, 26.0, 25.0, 28.7, 30.2, 31.1, 29.7, 29.0,
  30.4, 30.4, 31.5, 31.5, 30.1, 28.8, 31.0, 32.4, 31.0, 29.7, 30.1, 31.9, 32.8, 31.6, 30.5, 32.3, 33.6, 34.3, 33.0, 33.8, 35.1, 33.8, 32.7, 34.1, 35.3, 34.7, 33.5, 34.9, 35.8, 36.2, 34.7,
  35.4, 36.5, 37.3, 36.2, 34.9, 34.3, 35.6, 36.8, 37.6, 36.6, 35.3, 34.6, 34.1, 34.4, 35.7, 37.0, 38.0, 37.8, 36.5, 36.6, 37.9, 38.6, 37.1, 35.8, 34.5, 34.2, 35.5, 36.6, 36.8, 35.6,
  35.8, 36.7, 35.9, 35.2, 36.5, 37.4, 34.9, 34.5, 36.2, 37.6, 38.2, 37.0, 35.6, 35.1, 35.4, 36.8, 37.9, 38.6, 37.3, 36.2, 37.0, 38.3, 39.2, 38.4, 37.0, 36.1, 37.4, 38.8, 39.6, 38.2, 36.7,
  36.4, 37.6, 38.3, 37.2, 36.2, 37.8, 39.2, 39.2, 37.5, 36.8, 37.7, 38.3, 37.4, 36.3, 36.8, 38.0, 38.8, 38.2, 37.1, 36.1, 37.2, 38.5, 37.9, 36.9, 36.0, 36.4, 37.5, 36.9, 35.6, 35.0, 35.8,
  34.7, 35.5, 33.7, 34.3, 35.1, 35.8, 34.9, 33.8, 33.3, 34.5, 35.6, 34.7, 33.6, 32.9, 33.9, 34.7, 32.3, 32.9, 33.7, 34.5, 35.2, 34.1, 33.3, 32.6, 33.3, 33.9, 32.4, 31.8, 32.8, 32.1,
  31.9, 31.3, 32.4, 33.0, 29.9, 30.6, 32.1, 32.8, 31.6, 30.8, 33.0, 33.2, 31.8, 30.5, 29.6, 28.4, 26.5, 24.5, 23.6, 24.4, 23.0, 24.9, 26.9, 28.2, 29.0, 28.4, 27.1, 27.9, 29.2, 29.7, 28.2,
  27.0, 26.2, 27.9, 28.7, 26.6, 24.5, 22.6, 23.6, 25.3, 26.3, 24.4, 23.4, 25.2, 26.0, 24.6, 22.8, 21.4, 20.4, 19.7, 22.5, 23.7, 22.4, 21.1, 19.8, 20.6, 22.6, 20.6, 17.6, 18.7, 19.8,
  17.2, 14.4, 12.3, 11.6, 12.1, 14.1, 13.8, 15.8, 17.4, 15.5, 14.0, 15.2, 13.6, 17.5, 19.6, 18.3, 17.5, 20.9, 20.5, 19.2, 18.1, 17.5, 16.1, 17.1, 15.5, 14.1, 12.9, 11.9, 11.1, 12.0, 13.2
];
const modLateEvening = [ // 22h
  9.3, 11.2, 9.5, 12.5, 14.7, 14.6, 12.7, 11.0, 10.3, 11.7, 10.4, 10.2, 12.9, 14.2, 14.5, 14.1, 12.4, 11.7, 13.1, 10.9, 10.0, 11.1, 13.8, 15.9, 18.2, 15.6, 13.5, 12.5, 16.0, 14.1, 15.3,
  14.9, 13.4, 16.3, 16.5, 14.2, 12.4, 11.4, 10.7, 8.9, 11.7, 13.5, 11.7, 9.9, 11.1, 12.3, 11.9, 14.2, 14.9, 13.6, 17.3, 17.0, 15.6, 18.2, 16.9, 15.9, 19.4, 20.5, 18.0,
  18.4, 16.3, 15.5, 17.3, 19.0, 20.3, 21.5, 19.9, 18.9, 19.6, 21.5, 21.4, 19.9, 18.1, 20.3, 21.4, 18.4, 16.3, 15.3, 17.4, 20.0, 20.7, 22.2, 20.1, 19.4, 21.4, 20.0, 22.9, 24.3, 25.0, 21.9,
  22.9, 21.5, 23.2, 24.4, 24.5, 22.6, 21.0, 22.6, 24.6, 25.9, 25.9, 24.5, 23.2, 25.3, 26.8, 26.0, 24.6, 22.8, 25.2, 26.9, 27.6, 25.5, 24.0, 23.4, 22.5, 26.0, 27.4, 28.2, 26.9, 26.2,
  27.6, 27.3, 28.6, 28.9, 27.6, 26.2, 28.4, 29.6, 28.2, 27.2, 27.5, 29.2, 30.1, 28.9, 27.9, 29.6, 30.9, 31.5, 30.3, 31.1, 32.2, 31.0, 29.9, 31.4, 32.6, 32.0, 30.8, 32.2, 33.1, 33.5, 32.1,
  32.8, 33.7, 34.5, 33.6, 32.4, 31.8, 33.0, 34.1, 34.9, 34.0, 32.8, 32.1, 31.6, 31.8, 32.9, 34.2, 35.1, 34.6, 33.4, 33.9, 35.1, 35.8, 34.3, 33.1, 31.9, 31.6, 32.7, 33.8, 33.7, 32.7,
  33.0, 33.8, 33.0, 32.4, 33.6, 34.5, 32.1, 31.7, 33.4, 34.7, 35.3, 34.1, 32.8, 32.3, 32.6, 33.9, 35.0, 35.7, 34.4, 33.3, 34.1, 35.4, 36.1, 35.3, 34.1, 33.2, 34.5, 35.9, 36.5, 35.1, 33.8,
  33.5, 34.5, 35.2, 34.3, 33.3, 34.9, 36.0, 36.1, 34.6, 33.9, 34.8, 35.4, 34.5, 33.5, 34.0, 35.1, 35.9, 35.3, 34.2, 33.3, 34.4, 35.6, 35.0, 34.1, 33.3, 33.6, 34.7, 34.1, 32.9, 32.3, 33.1,
  32.1, 32.8, 31.1, 31.6, 32.4, 33.1, 32.2, 31.2, 30.8, 31.8, 32.8, 32.0, 31.0, 30.4, 31.3, 32.1, 29.7, 30.2, 31.1, 31.8, 32.5, 31.5, 30.7, 30.0, 30.8, 31.4, 30.0, 29.3, 30.3, 29.6,
  29.4, 28.8, 29.9, 30.5, 27.5, 28.1, 29.6, 30.3, 29.1, 28.3, 30.3, 30.7, 29.3, 28.0, 27.1, 25.9, 24.1, 22.3, 21.2, 21.9, 20.6, 22.4, 24.4, 25.7, 26.5, 25.9, 24.6, 25.4, 26.7, 27.2, 25.7,
  24.6, 23.8, 25.4, 26.1, 24.2, 22.3, 20.2, 21.2, 22.9, 23.8, 22.1, 21.2, 22.9, 23.7, 22.3, 20.5, 19.1, 18.2, 17.4, 20.3, 21.3, 20.0, 18.7, 17.4, 18.2, 20.0, 18.1, 15.1, 16.0, 17.1,
  14.7, 12.0, 10.1, 9.3, 9.5, 11.0, 11.2, 13.1, 14.7, 13.1, 11.6, 12.8, 11.3, 15.0, 16.9, 15.8, 15.0, 17.7, 17.7, 16.7, 15.6, 15.1, 13.9, 14.7, 13.3, 11.9, 10.7, 9.8, 8.9, 9.8, 11.1
];
const modHours = [1, 5, 9, 12, 15, 17, 19, 22];

// ---- build traces ----
var modSeries = [modLateNight, modNight, modMorning, modNoon, modAfternoon, modLateAfternoon, modEvening, modLateEvening];

var ambX = [], ambY = [];
for (var d = 0; d < ambLow.length; d++) {
  ambX.push(d * 24 + 5, d * 24 + 14);
  ambY.push(ambLow[d], ambHigh[d]);
}

var modX = [], modY = [];
for (var d = 0; d < modNoon.length; d++) {
  for (var k = 0; k < modHours.length; k++) {
    modX.push(d * 24 + modHours[k]);
    modY.push(modSeries[k][d]);
  }
}

var prX = monthStartHour.concat([8760]);
var prY = perfRatio.concat([perfRatio[perfRatio.length - 1]]);

var monthMid = [];
for (var i = 0; i < monthNames.length; i++) {
  monthMid.push(monthStartHour[i] + monthDays[i] * 12);
}

var pad = '\u00a0\u00a0';

var ambient = {
  x: ambX, y: ambY,
  type: 'scatter', mode: 'lines',
  name: pad + 'Ambient temperature',
  line: {color: '#ff0000', width: 2.5},
  legendgroup: 'a'
};

var module_temp = {
  x: modX, y: modY,
  type: 'scatter', mode: 'markers',
  name: pad + 'Modelled module temperature<br>' + pad + '(8<sup>o</sup> azimuth, 20<sup>o</sup> slope)',
  marker: {color: '#000000', size: 17},
  legendgroup: 'b'
};

var perf = {
  x: prX, y: prY,
  xaxis: 'x2', yaxis: 'y2',
  type: 'scatter', mode: 'lines',
  name: pad + 'Performance ratio',
  line: {color: '#0000ff', width: 9, shape: 'hv'},
  legendgroup: 'c'
};

var fontFamily = 'Liberation Sans, Arial, sans-serif';

var layout = {
  width: 2910,
  height: 2036,
  margin: {l: 290, r: 335, t: 106, b: 278},
  paper_bgcolor: '#ffffff',
  plot_bgcolor: '#ffffff',
  font: {family: fontFamily, size: 62, color: '#000000'},
  showlegend: true,
  legend: {
    x: 0.316, y: 0.243,
    xanchor: 'left', yanchor: 'top',
    bgcolor: '#ffffff',
    borderwidth: 0,
    font: {family: fontFamily, size: 57, color: '#000000'},
    itemwidth: 150,
    traceorder: 'grouped',
    tracegroupgap: 22
  },
  xaxis: {
    range: [0, 8760],
    tickvals: [0, 2000, 4000, 6000, 8000],
    ticktext: ['0', '2000', '4000', '6000', '8000'],
    ticks: 'outside', ticklen: 25, tickwidth: 4, tickcolor: '#000000',
    ticklabelstandoff: 15,
    showline: true, linewidth: 4, linecolor: '#000000',
    showgrid: false, zeroline: false,
    title: {
      text: 'Hour of the Year',
      font: {family: fontFamily, size: 76, weight: 'bold'},
      standoff: 70
    }
  },
  xaxis2: {
    overlaying: 'x', side: 'top', anchor: 'y',
    range: [0, 8760],
    tickvals: monthMid,
    ticktext: monthNames,
    ticks: '',
    ticklabelstandoff: 6,
    showline: true, linewidth: 4, linecolor: '#000000',
    showgrid: false, zeroline: false,
    minor: {
      tickmode: 'array',
      tickvals: monthStartHour.slice(1),
      ticks: 'outside', ticklen: 25, tickwidth: 4, tickcolor: '#000000',
      showgrid: false
    }
  },
  yaxis: {
    range: [0, 70],
    tickvals: [0, 10, 20, 30, 40, 50, 60, 70],
    ticks: 'outside', ticklen: 25, tickwidth: 4, tickcolor: '#000000',
    ticklabelstandoff: 14,
    showline: true, linewidth: 4, linecolor: '#000000',
    showgrid: true, gridcolor: '#c4c4c4', gridwidth: 5, griddash: '36px,20px',
    zeroline: false,
    title: {
      text: 'Temperature (deg C)',
      font: {family: fontFamily, size: 76, weight: 'bold'},
      standoff: 52
    }
  },
  yaxis2: {
    overlaying: 'y', side: 'right', anchor: 'x',
    range: [0.62, 0.76],
    tickvals: [0.62, 0.64, 0.66, 0.68, 0.70, 0.72, 0.74, 0.76],
    tickformat: '.2f',
    ticks: '',
    ticklabelstandoff: 25,
    showline: true, linewidth: 4, linecolor: '#000000',
    showgrid: false, zeroline: false,
    title: {
      text: 'Monthly Performance Ratio',
      font: {family: fontFamily, size: 76, weight: 'bold'},
      standoff: 72
    }
  }
};

Plotly.newPlot('chart', [ambient, module_temp, perf], layout, {displayModeBar: false, responsive: false});
</script>
</body>
</html>
